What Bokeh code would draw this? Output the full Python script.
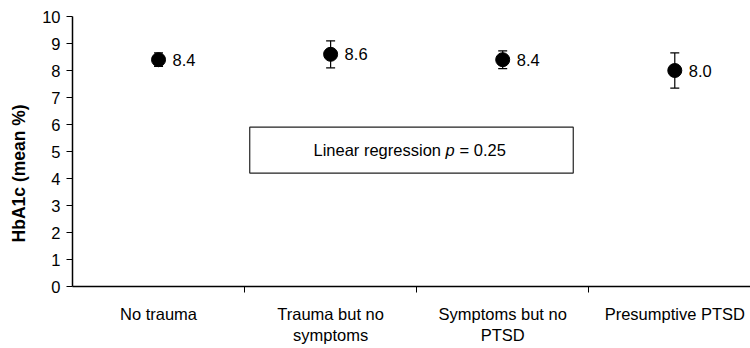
from bokeh.plotting import figure
from bokeh.models import (ColumnDataSource, Range1d, FixedTicker, Whisker, TeeHead,
                          BoxAnnotation, Label)
from bokeh.core.properties import value
from bokeh.embed import file_html
from bokeh.resources import INLINE

# ---- data ----
categories = ["No trauma", "Trauma but no\nsymptoms", "Symptoms but no\nPTSD", "Presumptive PTSD"]
x_pos = [0.5, 1.5, 2.5, 3.5]
means = [8.4, 8.6, 8.4, 8.0]
errors = [0.25, 0.5, 0.33, 0.65]
value_labels = ["8.4", "8.6", "8.4", "8.0"]
y_ticks = [0, 1, 2, 3, 4, 5, 6, 7, 8, 9, 10]
category_bounds = [1, 2, 3]
y_title = "HbA1c (mean %)"
annotation_text = ["Linear regression", "p", "= 0.25"]

FONT = "Liberation Sans"

src = ColumnDataSource(dict(
    x=x_pos,
    mean=means,
    upper=[m + e for m, e in zip(means, errors)],
    lower=[m - e for m, e in zip(means, errors)],
    label=value_labels,
))

p = figure(width=750, height=348, output_backend="svg", toolbar_location=None,
           x_range=Range1d(0, 3.94), y_range=Range1d(0, 10),
           min_border_left=72, min_border_right=0, min_border_top=16, min_border_bottom=62)
p.outline_line_color = None
p.xgrid.visible = False
p.ygrid.visible = False
p.background_fill_color = "white"
p.border_fill_color = "white"

# x axis
xa = p.xaxis[0]
xa.ticker = FixedTicker(ticks=x_pos, minor_ticks=category_bounds)
xa.major_label_overrides = {x: c for x, c in zip(x_pos, categories)}
xa.major_tick_in = 0
xa.major_tick_out = 0
xa.minor_tick_in = 0
xa.minor_tick_out = 6
xa.minor_tick_line_color = "black"
xa.axis_line_color = "black"
xa.axis_line_width = 1.5
xa.major_label_text_font = FONT
xa.major_label_text_font_size = "16.5px"
xa.major_label_text_color = "black"
xa.major_label_standoff = 12

# y axis
ya = p.yaxis[0]
ya.ticker = FixedTicker(ticks=y_ticks)
ya.major_tick_in = 0
ya.major_tick_out = 6
ya.minor_tick_line_color = None
ya.axis_line_color = "black"
ya.axis_line_width = 1.5
ya.major_tick_line_color = "black"
ya.major_label_text_font = FONT
ya.major_label_text_font_size = "16.5px"
ya.major_label_text_color = "black"
ya.major_label_standoff = 6
# trailing no-break spaces push the centred title down, as in the original
ya.axis_label = y_title + "\u00a0" * 9
ya.axis_label_text_font = FONT
ya.axis_label_text_font_style = "bold"
ya.axis_label_text_font_size = "17.5px"
ya.axis_label_text_color = "black"
ya.axis_label_standoff = 10

# regression annotation box
box = BoxAnnotation(left=1.03, right=2.91, bottom=4.2, top=5.9,
                    fill_color="white", fill_alpha=1.0,
                    line_color="#222222", line_width=1.2, line_alpha=1.0)
p.add_layout(box)
cx = (1.03 + 2.91) / 2
cy = 5.05
p.add_layout(Label(x=cx, y=cy, x_offset=-98, text=annotation_text[0], text_align="left",
                   text_baseline="middle", text_font=FONT, text_font_size="16.5px", text_color="black"))
p.add_layout(Label(x=cx, y=cy, x_offset=34, text=annotation_text[1], text_align="left",
                   text_baseline="middle", text_font=FONT, text_font_style="italic",
                   text_font_size="16.5px", text_color="black"))
p.add_layout(Label(x=cx, y=cy, x_offset=48, text=annotation_text[2], text_align="left",
                   text_baseline="middle", text_font=FONT, text_font_size="16.5px", text_color="black"))

# error bars
w = Whisker(base="x", upper="upper", lower="lower", source=src, dimension="height",
            line_color="black", line_width=1.2,
            upper_head=TeeHead(size=9, line_color="black", line_width=1.2),
            lower_head=TeeHead(size=9, line_color="black", line_width=1.2))
p.add_layout(w)

# points
p.scatter("x", "mean", source=src, size=14, color="black")

# value labels
p.text("x", "mean", text="label", source=src, x_offset=14, text_baseline="middle",
       text_align="left", text_font=value(FONT), text_font_size="16.5px", text_color="black")

open("out.html", "w").write(file_html(p, INLINE))
